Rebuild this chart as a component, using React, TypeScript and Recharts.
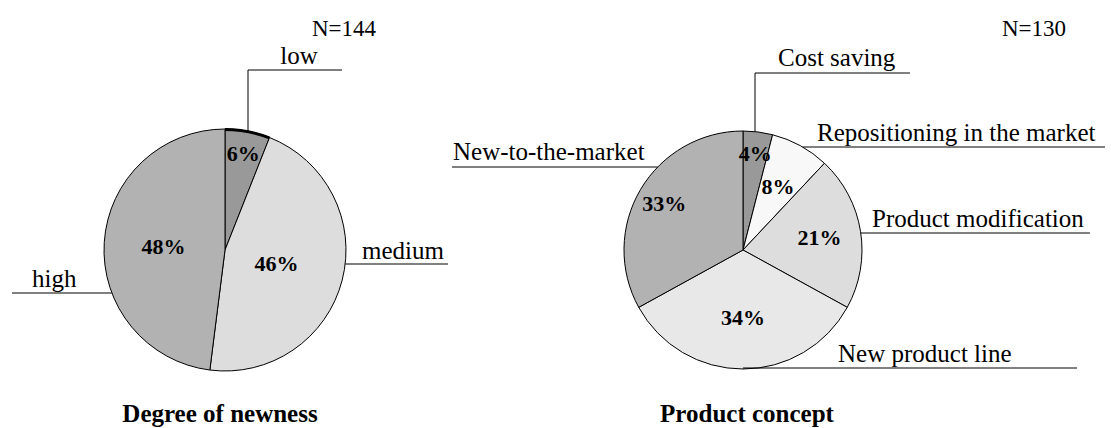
import React from 'react';
import { PieChart, Pie, Cell } from 'recharts';

// ---- data ----
const newnessNames = ['low', 'medium', 'high'];
const newnessValues = [6, 46, 48];
const newnessN = 'N=144';
const newnessTitle = 'Degree of newness';

const conceptNames = [
  'Cost saving',
  'Repositioning in the market',
  'Product modification',
  'New product line',
  'New-to-the-market',
];
const conceptValues = [4, 8, 21, 34, 33];
const conceptN = 'N=130';
const conceptTitle = 'Product concept';

// ---- styles ----
const newnessColors = ['#999999', '#dddddd', '#b2b2b2'];
const conceptColors = ['#999999', '#f8f8f8', '#dddddd', '#e8e8e8', '#b2b2b2'];
const FONT = '"Liberation Serif", "Times New Roman", serif';
const W = 1111;
const H = 428;

type Layout = {
  kind: 'elbow' | 'right' | 'left' | 'bottom';
  tx: number;
  ty: number;
  anchor: 'start' | 'middle' | 'end';
  lx?: number;
  ly: number;
  lend: number;
  pr: number;
};

const newnessLayout: Layout[] = [
  { kind: 'elbow', tx: 299, ty: 64, anchor: 'middle', lx: 248, ly: 70, lend: 342, pr: 0.81 },
  { kind: 'right', tx: 362, ty: 259, anchor: 'start', ly: 264, lend: 448, pr: 0.44 },
  { kind: 'left', tx: 32, ty: 287, anchor: 'start', ly: 293, lend: 12, pr: 0.51 },
];

const conceptLayout: Layout[] = [
  { kind: 'elbow', tx: 778, ty: 66, anchor: 'start', lx: 755, ly: 73, lend: 910, pr: 0.82 },
  { kind: 'right', tx: 817, ty: 141, anchor: 'start', ly: 147, lend: 1105, pr: 0.61 },
  { kind: 'right', tx: 872, ty: 227, anchor: 'start', ly: 233, lend: 1090, pr: 0.65 },
  { kind: 'bottom', tx: 838, ty: 362, anchor: 'start', ly: 368, lend: 1077, pr: 0.57 },
  { kind: 'left', tx: 453, ty: 160, anchor: 'start', ly: 167, lend: 452, pr: 0.77 },
];

const RADIAN = Math.PI / 180;

function makeLabel(names: string[], values: number[], layout: Layout[]) {
  return (props: any) => {
    const { cx, cy, midAngle, outerRadius, index } = props;
    const L = layout[index];
    const r = outerRadius;
    const pr = r * L.pr;
    const px = cx + pr * Math.cos(-midAngle * RADIAN);
    const py = cy + pr * Math.sin(-midAngle * RADIAN);
    let path = '';
    if (L.kind === 'elbow') {
      const x = L.lx as number;
      const ay = cy - Math.sqrt(Math.max(r * r - (x - cx) * (x - cx), 0));
      path = `M${x},${ay}L${x},${L.ly}L${L.lend},${L.ly}`;
    } else if (L.kind === 'right') {
      const ax = cx + Math.sqrt(Math.max(r * r - (L.ly - cy) * (L.ly - cy), 0));
      path = `M${ax},${L.ly}L${L.lend},${L.ly}`;
    } else if (L.kind === 'left') {
      const ax = cx - Math.sqrt(Math.max(r * r - (L.ly - cy) * (L.ly - cy), 0));
      path = `M${L.lend},${L.ly}L${ax},${L.ly}`;
    } else {
      path = `M${cx},${L.ly}L${L.lend},${L.ly}`;
    }
    return (
      <g key={`lbl-${index}`}>
        <path d={path} stroke="#000" strokeWidth={1} fill="none" />
        <text x={L.tx} y={L.ty} textAnchor={L.anchor} fontFamily={FONT} fontSize={25} fill="#000">
          {names[index]}
        </text>
        <text
          x={px}
          y={py}
          textAnchor="middle"
          dominantBaseline="central"
          fontFamily={FONT}
          fontSize={22}
          fontWeight="bold"
          fill="#000"
        >
          {`${values[index]}%`}
        </text>
      </g>
    );
  };
}

export default function App() {
  const newnessData = newnessNames.map((name, i) => ({ name, value: newnessValues[i] }));
  const conceptData = conceptNames.map((name, i) => ({ name, value: conceptValues[i] }));
  return (
    <div style={{ position: 'absolute', left: 0, top: 0, width: W, height: H, background: '#fff' }}>
      <PieChart width={W} height={H} margin={{ top: 0, right: 0, bottom: 0, left: 0 }}>
        <Pie
          data={newnessData}
          dataKey="value"
          nameKey="name"
          cx={225}
          cy={250}
          outerRadius={121}
          startAngle={90}
          endAngle={-270}
          stroke="#000"
          strokeWidth={1}
          isAnimationActive={false}
          labelLine={false}
          label={makeLabel(newnessNames, newnessValues, newnessLayout)}
        >
          {newnessData.map((d, i) => (
            <Cell key={d.name} fill={newnessColors[i]} />
          ))}
        </Pie>
        <Pie
          data={newnessData}
          dataKey="value"
          nameKey="name"
          cx={225}
          cy={250}
          innerRadius={119}
          outerRadius={122}
          startAngle={90}
          endAngle={-270}
          stroke="none"
          isAnimationActive={false}
          labelLine={false}
          label={false}
        >
          {newnessData.map((d, i) => (
            <Cell key={d.name} fill={i === 0 ? '#000' : 'none'} stroke="none" />
          ))}
        </Pie>
        <Pie
          data={conceptData}
          dataKey="value"
          nameKey="name"
          cx={743}
          cy={250}
          outerRadius={119}
          startAngle={90}
          endAngle={-270}
          stroke="#000"
          strokeWidth={1}
          isAnimationActive={false}
          labelLine={false}
          label={makeLabel(conceptNames, conceptValues, conceptLayout)}
        >
          {conceptData.map((d, i) => (
            <Cell key={d.name} fill={conceptColors[i]} />
          ))}
        </Pie>
      </PieChart>
      <svg
        width={W}
        height={H}
        style={{ position: 'absolute', left: 0, top: 0, pointerEvents: 'none' }}
      >
        <text x={312} y={36} fontFamily={FONT} fontSize={23} fill="#000">{newnessN}</text>
        <text x={1002} y={36} fontFamily={FONT} fontSize={23} fill="#000">{conceptN}</text>
        <text x={220} y={422} textAnchor="middle" fontFamily={FONT} fontSize={25} fontWeight="bold" fill="#000">
          {newnessTitle}
        </text>
        <text x={747} y={422} textAnchor="middle" fontFamily={FONT} fontSize={25} fontWeight="bold" fill="#000">
          {conceptTitle}
        </text>
      </svg>
    </div>
  );
}
